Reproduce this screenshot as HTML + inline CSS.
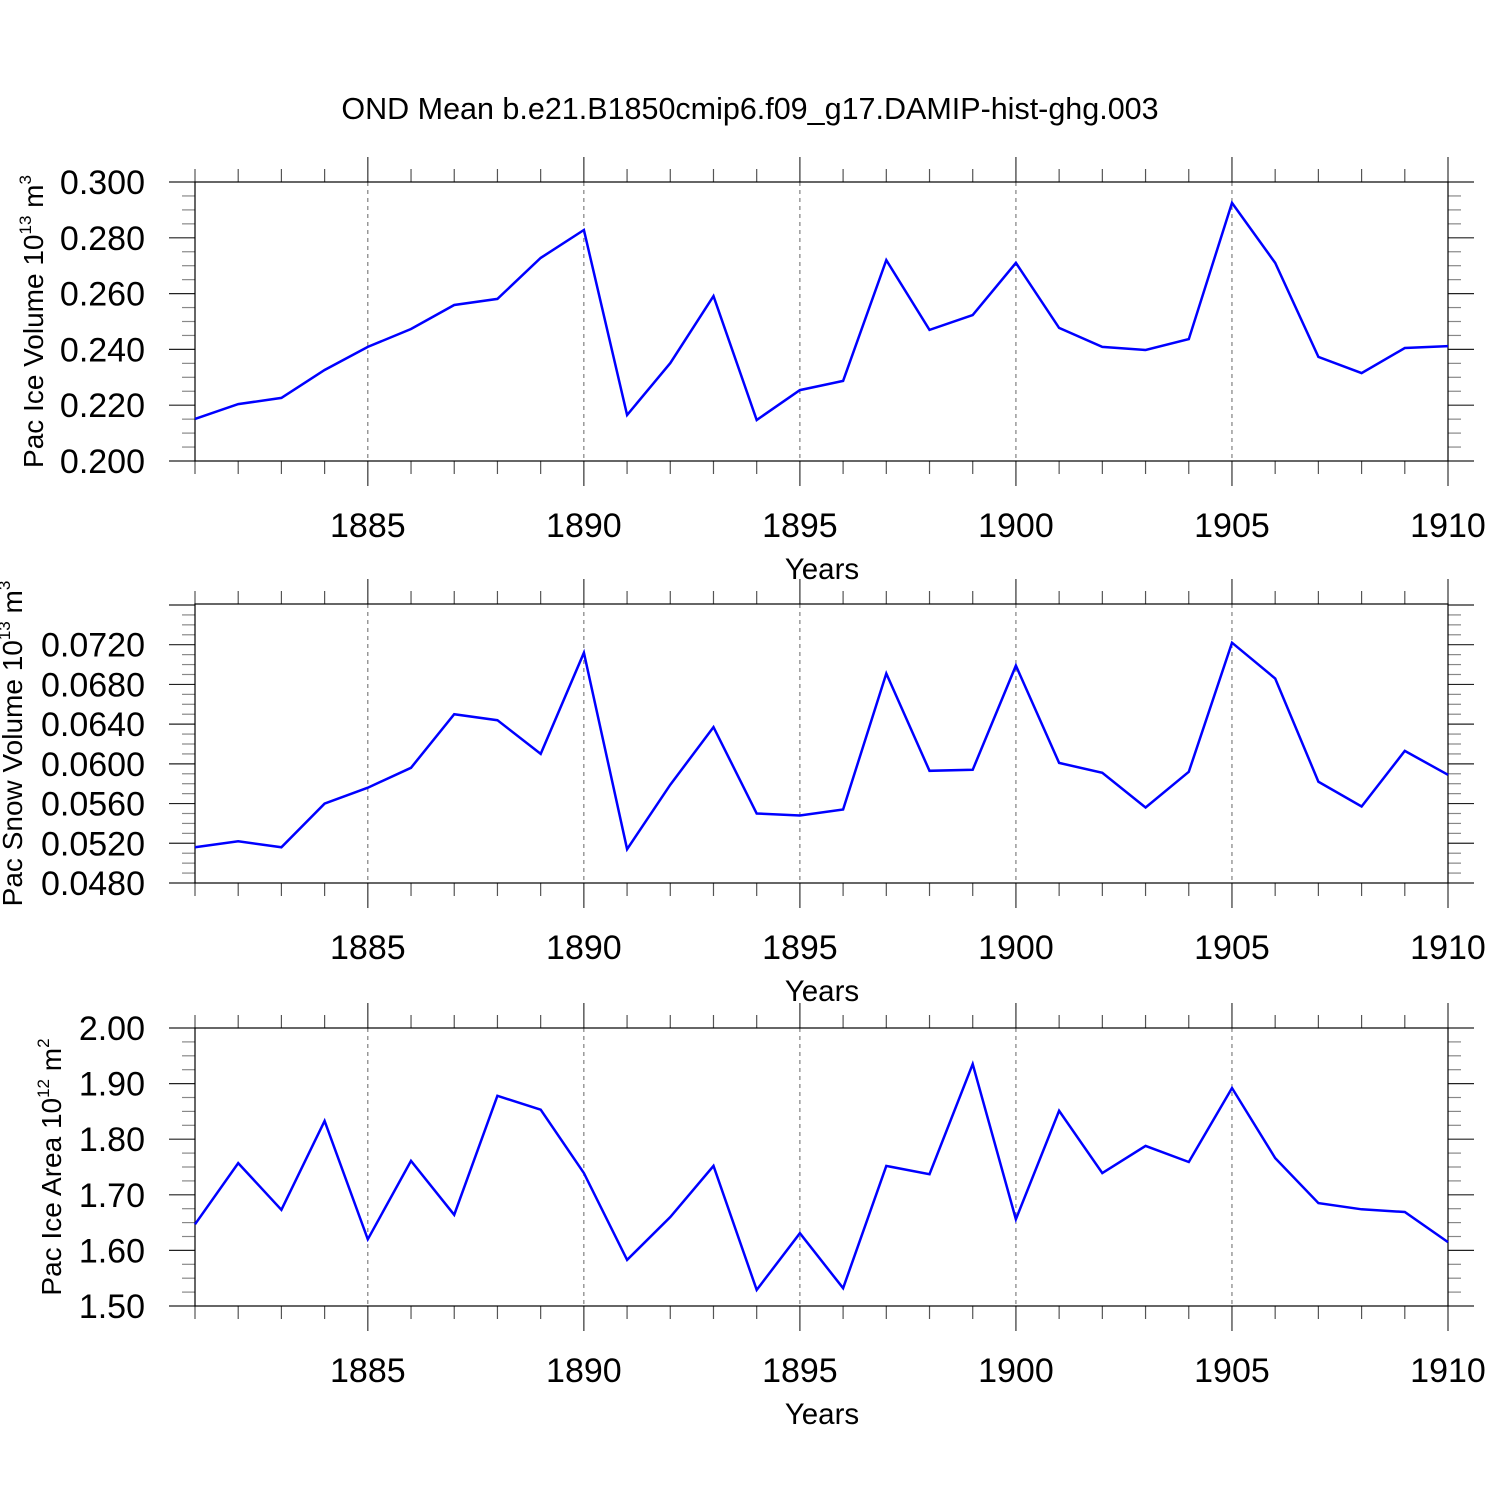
<!DOCTYPE html>
<html><head><meta charset="utf-8"><style>
html,body{margin:0;padding:0;background:#fff;}
svg{display:block;font-family:"Liberation Sans",sans-serif;}
</style></head><body>
<svg id="chart" width="1500" height="1500" viewBox="0 0 1500 1500" xmlns="http://www.w3.org/2000/svg">
<text x="750" y="119" font-size="30.5" text-anchor="middle">OND Mean b.e21.B1850cmip6.f09_g17.DAMIP-hist-ghg.003</text>
</svg>
<script>
const years = [1881,1882,1883,1884,1885,1886,1887,1888,1889,1890,1891,1892,1893,1894,1895,1896,1897,1898,1899,1900,1901,1902,1903,1904,1905,1906,1907,1908,1909,1910];
const xTickLabels = [1885,1890,1895,1900,1905,1910];
const iceVolume = [0.2151,0.2204,0.2226,0.2326,0.2409,0.2473,0.2559,0.2581,0.2728,0.2828,0.2165,0.2351,0.2591,0.2147,0.2254,0.2287,0.2720,0.2470,0.2523,0.2710,0.2477,0.2409,0.2398,0.2437,0.2925,0.2710,0.2373,0.2315,0.2405,0.2412];
const snowVolume = [0.0516,0.0522,0.0516,0.0560,0.0576,0.0596,0.0650,0.0644,0.0610,0.0712,0.0514,0.0579,0.0637,0.0550,0.0548,0.0554,0.0691,0.0593,0.0594,0.0699,0.0601,0.0591,0.0556,0.0592,0.0722,0.0686,0.0582,0.0557,0.0613,0.0589];
const iceArea = [1.647,1.757,1.673,1.833,1.620,1.761,1.664,1.878,1.853,1.739,1.583,1.660,1.752,1.529,1.631,1.532,1.752,1.737,1.935,1.656,1.851,1.739,1.788,1.759,1.892,1.766,1.685,1.674,1.669,1.615];
const iceVolTicks = ["0.200","0.220","0.240","0.260","0.280","0.300"];
const snowTicks = ["0.0480","0.0520","0.0560","0.0600","0.0640","0.0680","0.0720"];
const areaTicks = ["1.50","1.60","1.70","1.80","1.90","2.00"];

const NS="http://www.w3.org/2000/svg";
const svg=document.getElementById('chart');
function mk(tag,attrs,parent){const e=document.createElementNS(NS,tag);for(const k in attrs)e.setAttribute(k,attrs[k]);(parent||svg).appendChild(e);return e;}
const X0=195,X1=1448;
function xs(yr){return X0+(yr-1881)/(1910-1881)*(X1-X0);}

const panels=[
 {name:'ice-volume',top:182,bot:461,ymin:0.200,ymax:0.300,major:0.02,minor:0.005,ticks:iceVolTicks,data:iceVolume,title:'Pac Ice Volume 10',sup:'13',unit:' m',usup:'3',tx:34},
 {name:'snow-volume',top:604,bot:883,ymin:0.0480,ymax:0.0761,major:0.004,minor:0.001,ticks:snowTicks,data:snowVolume,title:'Pac Snow Volume 10',sup:'13',unit:' m',usup:'3',tx:13},
 {name:'ice-area',top:1028,bot:1306,ymin:1.50,ymax:2.00,major:0.1,minor:0.025,ticks:areaTicks,data:iceArea,title:'Pac Ice Area 10',sup:'12',unit:' m',usup:'2',tx:52}
];
panels.forEach(p=>{
 const g=mk('g',{});
 
 
 const ys=v=>p.bot-(v-p.ymin)/(p.ymax-p.ymin)*(p.bot-p.top);
 xTickLabels.forEach(yr=>{ if(yr<1910){const l=mk('line',{x1:xs(yr),x2:xs(yr),y1:p.top,y2:p.bot,stroke:'#666','stroke-width':1,'stroke-dasharray':'4,4'},g);
 }});
 years.forEach(yr=>{const maj=xTickLabels.includes(yr);const len=maj?25:13;const c=maj?'#333':'#555';
  mk('line',{x1:xs(yr),x2:xs(yr),y1:p.top-len,y2:p.top,stroke:c,'stroke-width':1.2},g);
  mk('line',{x1:xs(yr),x2:xs(yr),y1:p.bot,y2:p.bot+len,stroke:c,'stroke-width':1.2},g);});
 const nMin=Math.round((p.ymax-p.ymin)/p.minor+1e-6);
 for(let i=0;i<=nMin;i++){const v=p.ymin+i*p.minor;const y=ys(v);
  const isMaj=Math.abs(((v-p.ymin)/p.major)-Math.round((v-p.ymin)/p.major))<1e-6;const len=isMaj?26:13;
  mk('line',{x1:X0-len,x2:X0,y1:y,y2:y,stroke:isMaj?'#222':'#888','stroke-width':1.2},g);
  mk('line',{x1:X1,x2:X1+len,y1:y,y2:y,stroke:isMaj?'#222':'#888','stroke-width':1.2},g);}
 const fr=mk('rect',{x:X0,y:p.top,width:X1-X0,height:p.bot-p.top,fill:'none',stroke:'#000','stroke-width':1.2},g);
 
 p.ticks.forEach(t=>{const tx=mk('text',{x:145,y:ys(parseFloat(t))+12,'font-size':34,'text-anchor':'end'},g);tx.textContent=t;
  });
 xTickLabels.forEach(yr=>{const tx=mk('text',{x:xs(yr),y:p.bot+76,'font-size':34,'text-anchor':'middle'},g);tx.textContent=yr;
  });
 const xt=mk('text',{x:822,y:p.bot+118,'font-size':29.5,'text-anchor':'middle'},g);xt.textContent='Years';
 
 const cy=(p.top+p.bot)/2;
 const yt=mk('text',{x:0,y:0,'font-size':28,'text-anchor':'middle',transform:`translate(${p.tx+9},${cy}) rotate(-90)`},g);
 
 const s1=mk('tspan',{},yt);s1.textContent=p.title;
 const s2=mk('tspan',{dy:-12,'font-size':17},yt);s2.textContent=p.sup;
 const s3=mk('tspan',{dy:12},yt);s3.textContent=p.unit;
 const s4=mk('tspan',{dy:-12,'font-size':17},yt);s4.textContent=p.usup;
 const pts=p.data.map((v,i)=>xs(years[i]).toFixed(1)+','+ys(v).toFixed(1)).join(' ');
 const pl=mk('polyline',{points:pts,fill:'none',stroke:'#0000ff','stroke-width':2.5,'stroke-linejoin':'miter'},g);
 
});
</script>
</body></html>
